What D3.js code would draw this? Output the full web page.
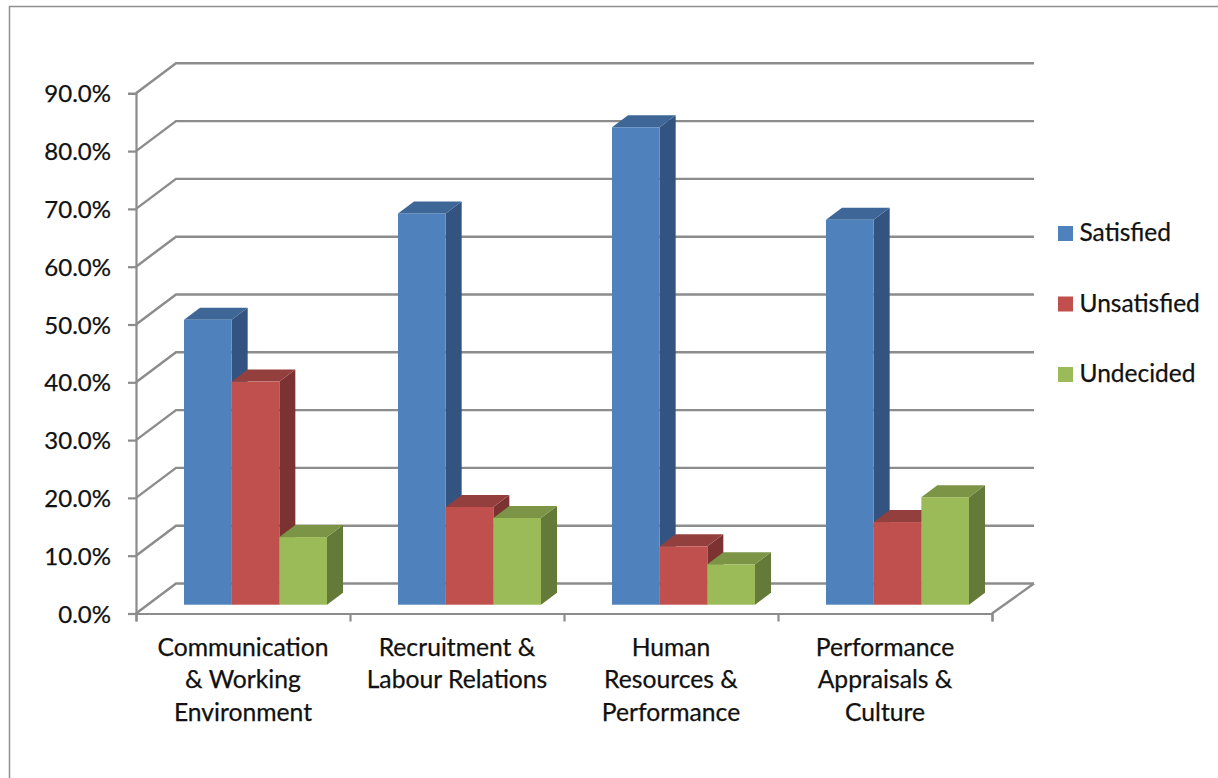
<!DOCTYPE html>
<html>
<head>
<meta charset="utf-8">
<script src="https://cdn.jsdelivr.net/npm/d3@7"></script>
<style>
html,body{margin:0;padding:0;background:#fff;overflow:hidden}
text{font-family:Lato,"Open Sans",sans-serif;fill:#111;stroke:#111;stroke-width:0.25px}
</style>
</head>
<body>
<svg id="chart" width="1218" height="778"></svg>
<script>
const categories = [
  ["Communication", "& Working", "Environment"],
  ["Recruitment &", "Labour Relations"],
  ["Human", "Resources &", "Performance"],
  ["Performance", "Appraisals &", "Culture"]
];
const seriesNames = ["Satisfied", "Unsatisfied", "Undecided"];
const satisfied = [49.3, 67.7, 82.6, 66.6];
const unsatisfied = [38.6, 16.9, 10.1, 14.3];
const undecided = [11.7, 15.0, 7.0, 18.6];
const yTicks = [0, 10, 20, 30, 40, 50, 60, 70, 80, 90];

const seriesValues = [satisfied, unsatisfied, undecided];
const frontColors = ["#4f81bd", "#c0504d", "#9bbb59"];
const topColors = ["#3e6797", "#933f3d", "#7b9446"];
const sideColors = ["#335380", "#7c3231", "#647a38"];
const gridColor = "#8c8c8c";

const svg = d3.select("#chart");

// Oblique projection of the chart box
const plotLeft = 136, plotRight = 992, plotTop = 93.3, plotBottom = 613.5;
const depthX = 40, depthY = 30;
const barDepthX = 16, barDepthY = 12;
const floorInset = 8.8;

const x = d3.scaleBand().domain(d3.range(categories.length)).range([plotLeft, plotRight]);
const inner = d3.scaleBand().domain(d3.range(seriesNames.length))
  .range([48, 48 + 143]);
const y = d3.scaleLinear().domain([0, 90]).range([plotBottom, plotTop]);

// Outer frame, open on the right and bottom
svg.append("path")
  .attr("d", "M9.5,778V6.5H1218")
  .attr("fill", "none").attr("stroke", "#8f8f8f").attr("stroke-width", 1.5);

// Back wall gridlines with their diagonal returns to the value axis
const grid = svg.append("g").attr("fill", "none")
  .attr("stroke", gridColor).attr("stroke-width", 2.4);
grid.selectAll("path").data(yTicks).join("path")
  .attr("d", t => d3.line()([
    [plotLeft, y(t)],
    [plotLeft + depthX, y(t) - depthY],
    [plotRight + 42, y(t) - depthY]
  ]));
grid.append("path").attr("d", d3.line()([
  [plotRight, plotBottom], [plotRight + 42, plotBottom - depthY]
]));

// Columns: one series at a time so each covers the side of its neighbour
const barY = v => y(v) - floorInset;
seriesValues.forEach((values, s) => {
  const g = svg.append("g");
  const cols = g.selectAll("g").data(values).join("g");
  const x0 = (d, i) => x(i) + inner(s);
  const w = inner.bandwidth();
  cols.append("path").attr("fill", sideColors[s])
    .attr("d", (d, i) => d3.line()([
      [x0(d, i) + w, barY(d)],
      [x0(d, i) + w + barDepthX, barY(d) - barDepthY],
      [x0(d, i) + w + barDepthX, barY(0) - barDepthY],
      [x0(d, i) + w, barY(0)]
    ]) + "Z");
  cols.append("path").attr("fill", topColors[s])
    .attr("d", (d, i) => d3.line()([
      [x0(d, i), barY(d)],
      [x0(d, i) + barDepthX, barY(d) - barDepthY],
      [x0(d, i) + w + barDepthX, barY(d) - barDepthY],
      [x0(d, i) + w, barY(d)]
    ]) + "Z");
  cols.append("rect").attr("fill", frontColors[s])
    .attr("x", x0).attr("y", d => barY(d))
    .attr("width", w).attr("height", d => barY(0) - barY(d));
});

// Value axis
const yAxis = svg.append("g").attr("transform", `translate(${plotLeft},0)`)
  .call(d3.axisLeft(y).tickValues(yTicks).tickSize(8).tickPadding(17)
    .tickFormat(t => t.toFixed(1) + "%"));
yAxis.selectAll("path,line").attr("stroke", gridColor).attr("stroke-width", 2.2);
yAxis.selectAll("text").attr("font-size", 24).attr("dy", "0.36em");

// Category axis, with labels wrapped over several lines
const xEdge = d3.scalePoint().domain(d3.range(categories.length + 1)).range([plotLeft, plotRight]);
const xAxis = svg.append("g").attr("transform", `translate(0,${plotBottom})`)
  .call(d3.axisBottom(xEdge).tickSize(8).tickFormat(""));
xAxis.selectAll("path,line").attr("stroke", gridColor).attr("stroke-width", 2.2);

const labels = svg.append("g").attr("text-anchor", "middle").attr("font-size", 24.7);
labels.selectAll("text").data(categories).join("text")
  .attr("transform", (d, i) => `translate(${x(i) + x.bandwidth() / 2},656)`)
  .selectAll("tspan").data(d => d).join("tspan")
  .attr("x", 0).attr("y", (d, i) => i * 32.3).text(d => d);

// Legend
const legendY = d3.scalePoint().domain(seriesNames).range([233.5, 374.5]);
const legend = svg.append("g").selectAll("g").data(seriesNames).join("g")
  .attr("transform", d => `translate(1058,${legendY(d)})`);
legend.append("rect").attr("x", 0).attr("y", -7.5).attr("width", 15).attr("height", 15)
  .attr("fill", (d, i) => frontColors[i]);
legend.append("text").attr("x", 21.5).attr("y", -1).attr("dy", "0.36em").attr("font-size", 24.5).text(d => d);
</script>
</body>
</html>
